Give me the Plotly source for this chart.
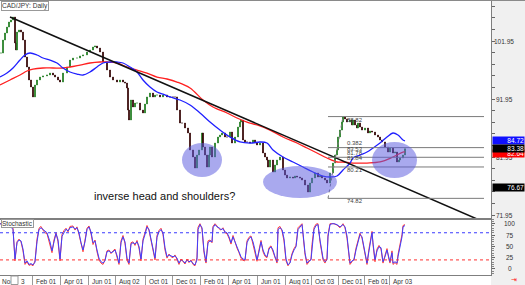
import plotly.graph_objects as go
from plotly.subplots import make_subplots

# ---------------- data (time index = chart session position) ----------------
t = [1,3,5,7,9,11,13,15,16,17,19,21,23,25,27,29,31,33,35,37,40,43,47,50,53,55,58,60,63,67,
     70,73,77,80,83,87,90,93,95,97,100,103,107,110,113,117,120,123,125,127,128,129,131,133,135,137,140,143,145,147,
     150,153,155,157,160,163,167,170,173,175,177,180,182,185,188,190,193,195,197,199,202,203,205,207,209,210,212,215,218,220,
     222,225,227,230,232,235,238,240,241,243,245,247,250,253,255,257,260,263,265,267,268,270,273,275,277,280,283,285,287,290,
     293,295,297,300,302,305,308,310,312,315,318,320,322,325,327,330,333,335,337,338,340,342,343,345,347,350,352,353,355,357,
     358,360,362,365,368,370,372,375,378,380,382,385,388,390,393,395,397,399,400,403,405]
close = [99.88,102.12,103.33,104.36,105.23,105.57,106.09,101.61,100.40,103.50,103.85,103.50,102.12,99.19,97.47,95.23,94.02,92.30,94.36,95.23,95.74,95.92,96.09,96.43,96.09,95.74,95.23,94.88,96.43,97.47,
         98.67,99.02,99.02,99.37,99.54,100.05,100.40,100.92,101.09,100.74,100.05,98.33,96.95,95.74,95.23,94.88,95.23,94.88,94.71,93.85,90.05,88.33,91.78,90.57,91.26,91.26,90.05,89.54,91.09,92.30,
         92.98,92.30,92.64,92.64,92.30,92.64,92.30,92.30,92.30,92.30,90.05,87.81,87.81,86.95,86.09,83.16,81.95,80.05,82.29,83.16,86.09,83.67,82.29,80.22,82.29,83.67,81.95,84.36,85.40,85.74,
         86.09,85.40,85.40,86.26,84.36,85.40,87.12,87.98,88.33,84.88,84.54,84.54,84.36,84.88,84.36,84.02,84.36,82.64,81.95,81.43,80.22,81.43,79.36,80.57,81.43,81.95,79.71,78.84,78.33,78.50,
         78.33,78.67,78.50,78.33,77.98,77.12,75.91,77.47,78.33,79.19,78.50,78.67,78.33,77.98,77.47,79.19,80.91,82.29,83.16,85.40,86.60,87.98,88.85,88.50,87.98,88.33,87.47,88.33,87.47,86.95,
         87.81,87.12,86.60,86.95,86.09,86.43,86.26,85.74,85.40,84.88,84.54,83.67,82.81,83.50,82.64,82.81,81.09,81.43,81.78,82.29,83.38]

ma_fast_t = [0,7,13,20,25,30,37,43,50,57,63,70,77,83,90,97,103,110,117,123,130,137,143,150,157,163,170,180,190,200,
             210,220,230,240,250,260,267,273,283,293,303,313,323,330,337,343,350,353,360,367,373,380,387,393,398,403,405]
ma_fast = [95.74,96.43,97.30,98.67,99.54,99.88,99.54,99.02,98.67,98.16,97.30,96.61,96.26,96.09,96.61,97.47,98.16,98.33,98.33,98.16,97.47,96.61,95.23,94.02,93.16,92.81,92.30,91.78,90.92,89.54,
           87.98,86.60,85.40,84.54,84.36,84.54,84.36,83.16,81.95,81.09,80.22,79.36,78.67,78.50,78.67,79.71,80.91,81.78,82.29,82.81,83.50,84.36,85.40,86.09,85.74,84.88,84.72]

ma_slow_t = [0,10,20,27,33,43,53,63,70,80,90,100,107,117,127,137,147,157,167,177,190,203,213,227,237,247,257,270,283,297,
             307,317,327,337,343,353,367,380,393,403,405]
ma_slow = [94.36,95.23,96.09,96.78,97.12,97.30,97.30,97.30,97.47,97.81,98.16,98.33,98.33,98.16,97.47,96.95,96.43,95.74,95.40,94.88,93.85,91.78,90.57,89.54,88.68,87.98,87.47,86.60,85.40,84.36,
           83.50,82.64,81.78,81.09,81.09,80.91,80.91,81.09,81.95,82.81,82.81]

trend_t = [10, 477]
trend_p = [106.09, 71.26]

fib_t = [328, 484]
fib_levels = [88.92, 83.57, 81.90, 80.23, 74.82]
fib_texts = ["88.82", "0.382", "83.53", "81.78", "81.84", "80.21", "74.82"]
fib_text_p = [88.33, 84.36, 83.33, 82.64, 81.78, 79.71, 74.36]

highlights = [(182, 222, 78.50, 84.36), (263, 337, 74.88, 80.40), (372, 417, 78.33, 84.54)]

stoch_t = [0,3,7,10,13,15,17,19,21,23, 25,27,29,31,33,35,37,39,41,43, 45,47,50,52,54,56,58,60,62,64,
           66,68,70,73,75,77,79,81,83,85, 87,89,91,93,95,97,99,101,103,105, 107,109,111,113,115,117,119,121,123,125,
           127,129,131,133,135,137,139,141,143,145, 147,149,151,153,155,157,159,161,163,165, 167,169,171,173,175,177,179,181,183,185,
           187,189,191,193,195,197,198,200,202,204, 206,208,210,212,213,215,217,219,221,223, 225,227,229,231,233,235,237,239,241,243,
           245,247,249,251,253,255,257,259,261,263, 265,267,269,271,273,275,277,278,280,282, 284,286,288,290,292,294,296,298,300,302,
           303,305,307,309,311,312,314,316,318,320, 322,323,325,327,328,330,332,334,337,340, 343,345,347,349,350,352,354,356,358,360,
           362,364,366,367,369,371,372,373,375,377, 379,381,383,385,387,389,390,392,393,395, 397,398,400,402,403,405]
stoch_d = [100,98,100,96,87,22,58,64,62,44, 13,18,10,12,9,15,60,87,91,87, 82,80,60,40,60,78,65,22,72,82,
           88,84,91,93,88,91,80,58,42,60, 87,93,82,58,62,42,24,16,13,18, 38,40,36,38,42,30,13,58,71,60,
           24,13,55,58,55,60,50,22,62,76, 93,87,65,42,24,70,82,87,80,47, 27,31,29,27,29,24,13,20,18,13,
           20,16,18,12,9,20,87,98,91,40, 16,58,62,60,91,98,93,91,87,89, 82,80,71,58,71,60,49,40,27,22,
           20,58,67,71,60,42,20,38,60,42, 31,27,44,49,42,27,16,87,91,87, 67,22,9,13,31,42,49,87,93,98,
           80,36,13,18,20,49,87,96,98,64, 36,24,16,20,71,98,100,100,98,93, 98,93,73,40,13,18,20,42,62,76,
           71,49,22,13,40,71,80,58,20,40, 49,47,16,27,42,24,16,36,13,16, 13,27,49,71,93,96]
stoch_k = [100,100,99,98,90,18,60,66,60,40, 10,16,8,10,7,18,66,90,94,86, 80,78,56,36,64,80,60,18,76,85,
           90,82,94,95,86,93,76,54,38,64, 90,95,78,54,64,38,20,13,10,20, 40,42,34,40,44,26,10,62,74,56,
           20,10,58,60,52,63,46,18,66,80, 96,85,62,38,20,74,85,90,76,42, 24,33,27,25,31,21,10,22,16,11,
           22,14,20,10,7,26,92,100,88,36, 13,62,64,58,94,100,95,89,86,91, 80,78,68,55,74,58,46,36,24,19,
           18,62,70,73,56,38,17,42,63,38, 28,25,47,51,38,24,13,91,94,84, 62,18,7,15,34,45,52,91,96,100,
           76,32,10,16,22,54,91,99,100,60, 32,20,13,24,76,100,100,100,97,91, 100,91,68,35,10,16,22,46,66,79,
           68,45,18,10,45,75,83,54,16,44, 52,44,13,30,45,20,13,40,10,14, 10,32,54,76,96,98]
stoch_levels = [(80, "#3a3aff"), (20, "#ff3030")]

price_labels = [71.95, 81.95, 91.95, 101.95]
price_ticks = [71.95 + 2 * i for i in range(19)]
stoch_labels = [0, 25, 50, 75, 100]
tags = [(84.72, "#1010ff"), (82.64, "#ff0000"), (83.38, "#000000"), (76.67, "#000000")]

date_sep = [32, 60, 88, 115, 145, 172, 200, 228, 257, 285, 311, 338, 364, 389]
date_text = ["Feb 01", "Apr 01", "Jun 01", "Aug 02", "Oct 01", "Dec 01", "Feb 01", "Apr 01",
             "Jun 01", "Aug 01", "Oct 03", "Dec 01", "Feb 01", "Apr 03"]

# ---------------- figure ----------------
W, H = 525, 285
L, R, T, B = 0, 34, 1, 10
PW, PH = W - L - R, H - T - B
FONT = "Liberation Sans"
GRAY = "#7f7f7f"

fig = make_subplots(rows=2, cols=1, shared_xaxes=True, vertical_spacing=0,
                    row_heights=[218, 56])

opens = [close[0]] + close[:-1]
highs = [max(o, c) for o, c in zip(opens, close)]
lows = [min(o, c) for o, c in zip(opens, close)]

fig.add_trace(go.Candlestick(x=t, open=opens, high=highs, low=lows, close=close,
                             increasing=dict(line=dict(color="#1f7a1f", width=1), fillcolor="#22b022"),
                             decreasing=dict(line=dict(color="#2a0000", width=1), fillcolor="#d01010"),
                             whiskerwidth=0, hoverinfo="skip"), row=1, col=1)
fig.add_trace(go.Scatter(x=ma_slow_t, y=ma_slow, mode="lines", line=dict(color="#ff2020", width=1.3, shape="spline"),
                         hoverinfo="skip"), row=1, col=1)
fig.add_trace(go.Scatter(x=ma_fast_t, y=ma_fast, mode="lines", line=dict(color="#2020ff", width=1.3, shape="spline"),
                         hoverinfo="skip"), row=1, col=1)
fig.add_trace(go.Scatter(x=trend_t, y=trend_p, mode="lines", line=dict(color="#111111", width=1.5),
                         hoverinfo="skip"), row=1, col=1)

fig.add_trace(go.Scatter(x=stoch_t, y=stoch_k, mode="lines", line=dict(color="#ff3b3b", width=1),
                         hoverinfo="skip"), row=2, col=1)
fig.add_trace(go.Scatter(x=stoch_t, y=stoch_d, mode="lines", line=dict(color="#4040ff", width=1),
                         hoverinfo="skip"), row=2, col=1)

shapes = []
# right column background + top border
shapes.append(dict(type="rect", xref="paper", yref="paper", x0=1.0, x1=(PW + R) / PW,
                   y0=-B / PH, y1=1 + T / PH, fillcolor="#f0f0f0", line=dict(width=0), layer="below"))
shapes.append(dict(type="line", xref="paper", yref="paper", x0=0, x1=(PW + R) / PW,
                   y0=1 + 0.5 / PH, y1=1 + 0.5 / PH, line=dict(color="#8a8a8a", width=1)))
# fib lines
for lv in fib_levels:
    shapes.append(dict(type="line", xref="x", yref="y", x0=fib_t[0], x1=fib_t[1], y0=lv, y1=lv,
                       line=dict(color="#7a7a7a", width=1)))
shapes.append(dict(type="line", xref="x", yref="y", x0=fib_t[0], x1=343, y0=fib_levels[-1], y1=fib_levels[0],
                   line=dict(color="#7a7a7a", width=1, dash="dot")))
# stochastic levels
for lv, col in stoch_levels:
    shapes.append(dict(type="line", xref="x2", yref="y2", x0=0, x1=PW, y0=lv, y1=lv,
                       line=dict(color=col, width=1, dash="dot")))
# highlight ellipses
for x0, x1, p0, p1 in highlights:
    shapes.append(dict(type="circle", xref="x", yref="y", x0=x0, x1=x1, y0=p0, y1=p1,
                       fillcolor="rgba(90,90,222,0.52)", line=dict(width=0), layer="above"))
# small scroll box in date strip
shapes.append(dict(type="rect", xref="paper", yref="paper", x0=11 / PW, x1=18 / PW,
                   y0=-9.5 / PH, y1=-1 / PH, fillcolor="white", line=dict(color="#999999", width=1)))

ann = []
small = dict(family=FONT, size=6.5, color="#333333")
for lv in price_labels:
    ann.append(dict(x=(PW + 13) / PW, xref="paper", y=lv, yref="y", text=f"{lv:.2f}",
                    showarrow=False, xanchor="center", yanchor="middle", font=small))
for lv in stoch_labels:
    ann.append(dict(x=(PW + 18.5) / PW, xref="paper", y=lv, yref="y2", text=str(lv),
                    showarrow=False, xanchor="center", yanchor="middle", font=small))
for p, col in tags:
    ann.append(dict(x=(PW + 1) / PW, xref="paper", xanchor="left", y=p, yref="y", yanchor="middle",
                    text=f"{p:.2f}", showarrow=False, font=dict(family=FONT, size=6.5, color="white"),
                    bgcolor=col, width=31, height=7, align="right", borderpad=0))
for s, txt in zip(date_sep, date_text):
    ann.append(dict(x=s + 2, xref="x2", xanchor="left", y=-0.8 / PH, yref="paper", yanchor="top",
                    text=txt, showarrow=False, font=small))
ann.append(dict(x=0, xref="x2", xanchor="left", y=-0.8 / PH, yref="paper", yanchor="top",
                text="No", showarrow=False, font=small))
ann.append(dict(x=19, xref="x2", xanchor="left", y=-0.8 / PH, yref="paper", yanchor="top",
                text="3", showarrow=False, font=small))
for txt, p in zip(fib_texts, fib_text_p):
    ann.append(dict(x=345, xref="x", xanchor="left", y=p, yref="y", yanchor="middle", text=txt,
                    showarrow=False, font=dict(family=FONT, size=6, color="#444444")))
ann.append(dict(x=164.5, xref="x", y=75.23, yref="y", text="inverse head and shoulders?",
                showarrow=False, font=dict(family=FONT, size=11, color="#111111")))
ann.append(dict(x=0.5 / PW, xref="paper", xanchor="left", y=1, yref="y domain", yanchor="top",
                text="CAD/JPY: Daily", showarrow=False, font=dict(family=FONT, size=6.5, color="#333333"),
                bgcolor="white", bordercolor="#999999", borderwidth=1, borderpad=0))
ann.append(dict(x=0.5 / PW, xref="paper", xanchor="left", y=1, yref="y2 domain", yanchor="top",
                text="Stochastic", showarrow=False, font=dict(family=FONT, size=6.5, color="#333333"),
                bgcolor="white", bordercolor="#999999", borderwidth=1, borderpad=0))
ann.append(dict(x=(PW + 23) / PW, xref="paper", xanchor="center", y=-4.8 / PH, yref="paper", yanchor="middle",
                text="⇥", showarrow=False, font=dict(family="DejaVu Sans", size=7, color="#ff2020")))

fig.update_layout(width=W, height=H, margin=dict(l=L, r=R, t=T, b=B),
                  paper_bgcolor="white", plot_bgcolor="white", showlegend=False,
                  shapes=shapes, annotations=ann, font=dict(family=FONT),
                  xaxis_rangeslider_visible=False)

ax_common = dict(range=[0, PW], showgrid=False, zeroline=False, showline=True, mirror=True,
                 linecolor=GRAY, linewidth=1)
fig.update_xaxes(**ax_common, ticks="", showticklabels=False, row=1, col=1)
fig.update_xaxes(**ax_common, ticks="outside", ticklen=10, tickcolor="#9a9a9a", tickwidth=1,
                 tickvals=date_sep, showticklabels=False, row=2, col=1)
fig.update_yaxes(range=[71.26, 108.85], side="right", showgrid=False, zeroline=False, showline=True,
                 mirror=True, linecolor=GRAY, linewidth=1, ticks="outside", ticklen=3, tickcolor="#666666",
                 tickvals=price_ticks, showticklabels=False, row=1, col=1)
fig.update_yaxes(range=[-13.3, 110.4], side="right", showgrid=False, zeroline=False, showline=True,
                 mirror=True, linecolor=GRAY, linewidth=1, ticks="outside", ticklen=3, tickcolor="#666666",
                 tickvals=stoch_labels, showticklabels=False,
                 minor=dict(ticks="outside", ticklen=2, dtick=5, tickcolor="#888888"), row=2, col=1)

fig.write_html("out.html")
